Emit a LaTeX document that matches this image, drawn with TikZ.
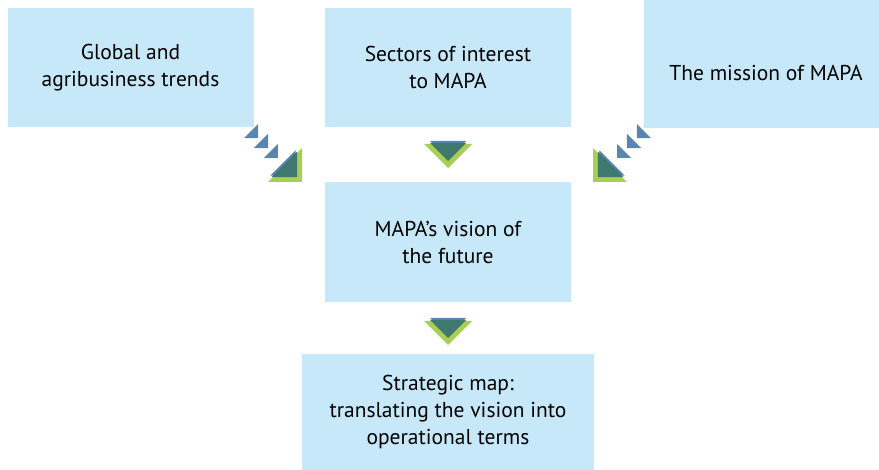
\documentclass[tikz,border=0pt]{standalone}
\usepackage{fontspec}
\setmainfont{PT Sans}
\definecolor{boxblue}{RGB}{199,232,248}
\definecolor{tipblue}{RGB}{88,134,176}
\definecolor{tipteal}{RGB}{62,120,110}
\definecolor{tipgreen}{RGB}{168,206,84}
\tikzset{
  box/.style={fill=boxblue, inner sep=0pt, align=center,
    font=\fontsize{21.5}{27}\selectfont},
  % arrow head: green base, blue shadow, teal front
  tip/.pic={
    \fill[tipgreen] (-24,-24) -- (24,-24) -- (0,0) -- cycle;
    \fill[tipblue] (-18,-27) -- (18,-27) -- (0,-9) -- cycle;
    \fill[tipteal] (-18,-25) -- (18,-25) -- (0,-7) -- cycle;
  },
  trail/.pic={
    \foreach \d in {34,48,62}
      \fill[tipblue] (-10,-\d-10) -- (10,-\d-10) -- (0,-\d) -- cycle;
  }
}
\begin{document}
\begin{tikzpicture}[x=1pt,y=-1pt]
  \useasboundingbox (0,0) rectangle (879,470);
  \node[box, minimum width=246pt, minimum height=119pt] (trends) at (130.5,67.5)
    {Global and\\agribusiness trends};
  \node[box, minimum width=246pt, minimum height=119pt] (sectors) at (448,67.5)
    {Sectors of interest\\to MAPA};
  \node[box, minimum width=236pt, minimum height=128pt] (mission) at (762,64) {};
  \node[font=\fontsize{21.5}{27}\selectfont] (missiontext) at (766,73) {The mission of MAPA};
  \node[box, minimum width=246pt, minimum height=120pt] (vision) at (448,242)
    {MAPA’s vision of\\the future};
  \node[box, minimum width=292pt, minimum height=116pt] (map) at (448,412)
    {Strategic map:\\translating the vision into\\operational terms};

  \coordinate (tipL) at (302,182);
  \coordinate (tipR) at (593,182);
  \coordinate (tipC) at (448,168);
  \coordinate (tipD) at (448,345);

  \pic[rotate=45] at (tipL) {trail};
  \pic[rotate=45] at (tipL) {tip};
  \pic[rotate=-45] at (tipR) {trail};
  \pic[rotate=-45] at (tipR) {tip};
  \pic at (tipC) {tip};
  \pic at (tipD) {tip};
\end{tikzpicture}
\end{document}
